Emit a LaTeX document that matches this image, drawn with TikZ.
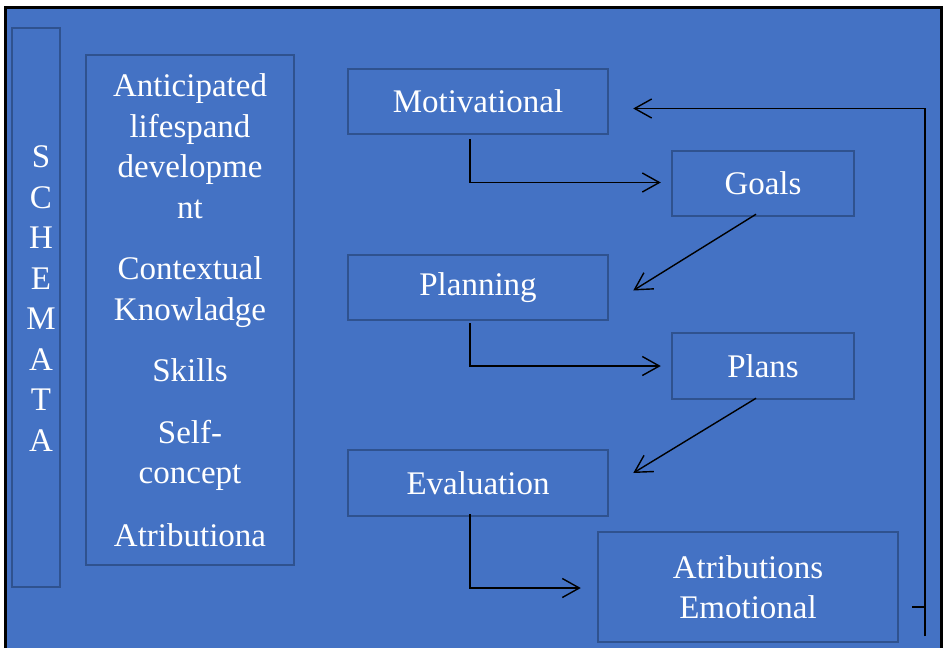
\documentclass[tikz,border=0pt]{standalone}
\usepackage{fontspec}
\setmainfont{Liberation Serif}
\usetikzlibrary{arrows.meta}
\definecolor{slideBlue}{RGB}{68,114,196}
\definecolor{boxEdge}{RGB}{47,82,143}

\begin{document}
\begin{tikzpicture}[x=1pt, y=-1pt, font=\fontsize{33}{40.5}\selectfont,
  box/.style={draw=boxEdge, line width=2.5pt, text=white, inner sep=0pt, align=center},
  link/.style={black, line width=1.4pt, -{Straight Barb[length=17pt,width=19pt]}}]

\useasboundingbox (0,0) rectangle (943,648);
\draw[line width=3pt, fill=slideBlue] (5,7) rectangle (941,680);

\begin{scope}[every node/.style=box]
\node (schemabox) at (36,307.5) [minimum width=48pt, minimum height=559pt] {};
\node (list) at (190,310) [minimum width=208pt, minimum height=510pt]
  {Anticipated\\lifespand\\developme\\nt\\[21pt]
   Contextual\\Knowladge\\[21pt]
   Skills\\[21pt]
   Self-\\concept\\[22pt]
   Atributiona};
\node (motiv) at (478,101.5) [minimum width=260pt, minimum height=65pt] {Motivational};
\node (goals) at (763,183.5) [minimum width=182pt, minimum height=65pt] {Goals};
\node (plan) at (478,287.5) [minimum width=260pt, minimum height=65pt] {Planning};
\node (plans) at (763,366) [minimum width=182pt, minimum height=66pt] {Plans};
\node (eval) at (478,483) [minimum width=260pt, minimum height=66pt] {Evaluation};
\node (atrib) at (748,587) [minimum width=300pt, minimum height=110pt] {Atributions\\Emotional};
\end{scope}

\node[text=white, align=center] (schema) at (41,298.5) {S\\C\\H\\E\\M\\A\\T\\A};

\coordinate (loopbot) at (925,636);

\begin{scope}[link]
\draw ([xshift=-8pt,yshift=-4pt]motiv.south) |- ([xshift=-10pt,yshift=1pt]goals.west);
\draw ([xshift=-7pt,yshift=3pt]goals.south) -- ([xshift=24pt,yshift=-3pt]plan.east);
\draw ([xshift=-8pt,yshift=-2pt]plan.south) |- ([xshift=-10pt]plans.west);
\draw ([xshift=-7pt,yshift=2pt]plans.south) -- ([xshift=24pt,yshift=10pt]eval.east);
\draw ([xshift=-8pt,yshift=3pt]eval.south) |- ([xshift=-16pt,yshift=-1pt]atrib.west);
\draw (loopbot) |- ([xshift=24pt,yshift=-7pt]motiv.east);
\draw[-] ([xshift=13pt,yshift=-20pt]atrib.east) -- ++(14,0);
\end{scope}
\end{tikzpicture}
\end{document}
